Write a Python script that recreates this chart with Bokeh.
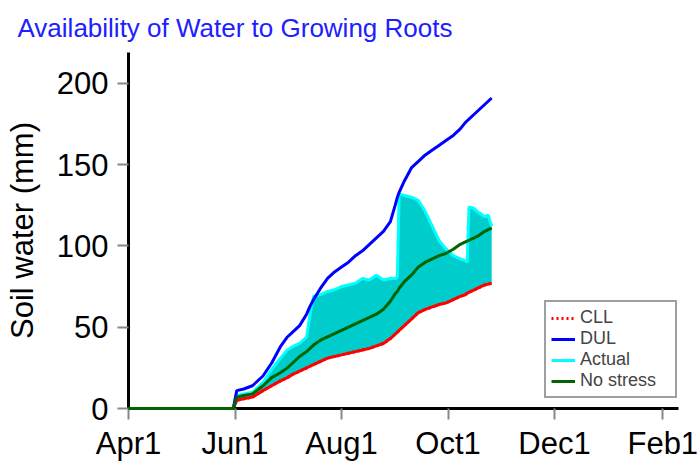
from bokeh.plotting import figure
from bokeh.models import Range1d, FixedTicker, Legend, LegendItem
from bokeh.embed import file_html
from bokeh.resources import INLINE

# days since Apr 1
days = [0, 60, 62, 66, 71, 77, 82, 87, 91, 94, 98, 102, 104, 106, 110, 114, 118, 122,
        126, 130, 134, 138, 142, 146, 150, 153, 154, 155, 158, 162, 166, 170, 174, 178,
        182, 186, 190, 193, 194, 195, 198, 200, 204, 206, 208]
dul = [0, 0, 11, 12, 14, 20, 28, 38, 44, 47, 51, 58, 63, 67, 74, 80, 84, 87, 90, 94, 97,
       101, 105, 109, 115, 126, 130, 133, 140, 148, 152, 156, 159, 162, 165, 168, 172,
       176, 177, 178, 181, 183, 187, 189, 191]
cll = [0, 0, 5, 6, 7, 11, 14, 17, 19, 21, 23, 25, 26, 27, 29, 31, 32, 33, 34, 35, 36, 37,
       38.5, 40, 43, 46, 47, 48, 51, 55, 59, 61, 62.5, 64, 65, 67, 69, 70, 71, 71.5, 73,
       74, 76, 76.5, 77]
actual = [0, 0, 8, 9, 10, 16, 24, 31, 36, 38, 40, 44, 58, 69, 70, 72, 73, 75, 76, 77, 80,
          79, 82, 79, 80, 80, 81, 132, 131, 130, 128, 121, 112, 103, 98, 94, 92, 91, 90,
          124, 123, 121, 118, 119, 112]
no_stress = [0, 0, 7, 8, 9, 14, 19, 22, 25, 28, 32, 35, 37, 39, 42, 44, 46, 48, 50, 52,
             54, 56, 58, 61, 66, 71, 72, 74, 78, 82, 87, 90, 92, 94, 95.5, 98, 101, 102.5,
             103, 103.5, 105, 106, 109, 110, 111]

tick_days = [0, 61, 122, 183, 244, 306]
tick_labels = ["Apr1", "Jun1", "Aug1", "Oct1", "Dec1", "Feb1"]
y_ticks = [0, 50, 100, 150, 200]

FONT = "Liberation Sans"

p = figure(width=698, height=463, output_backend="svg",
           toolbar_location=None,
           x_range=Range1d(0, 315), y_range=Range1d(0, 219),
           min_border_left=128, min_border_right=20, min_border_top=52,
           min_border_bottom=54)

p.title.text = "Availability of Water to Growing Roots"
p.title.text_font = FONT
p.title.text_font_size = "26px"
p.title.text_font_style = "normal"
p.title.text_color = "#2020ff"
p.title.offset = -111
p.title.standoff = 20

p.outline_line_color = None
p.xgrid.visible = False
p.ygrid.visible = False

for ax in (p.xaxis[0], p.yaxis[0]):
    ax.axis_line_color = "black"
    ax.axis_line_width = 3
    ax.major_tick_line_color = "#888888"
    ax.major_tick_line_width = 2
    ax.major_tick_out = 11
    ax.major_tick_in = 0
    ax.minor_tick_line_color = None
    ax.major_label_text_font = FONT
    ax.major_label_text_font_size = "31px"
    ax.major_label_text_color = "black"

p.xaxis.ticker = FixedTicker(ticks=tick_days)
p.xaxis.major_label_overrides = {d: l for d, l in zip(tick_days, tick_labels)}
p.xaxis.major_label_standoff = 6
p.yaxis.ticker = FixedTicker(ticks=y_ticks)
p.yaxis.major_label_standoff = 9

p.yaxis.axis_label = "Soil water (mm)"
p.yaxis.axis_label_text_font = FONT
p.yaxis.axis_label_text_font_size = "31px"
p.yaxis.axis_label_text_font_style = "normal"
p.yaxis.axis_label_text_color = "black"
p.yaxis.axis_label_standoff = 14

p.varea(x=days, y1=cll, y2=actual, fill_color="#00cccc")
r_act = p.line(days, actual, line_color="#00ffff", line_width=3)
r_dul = p.line(days, dul, line_color="#0000ff", line_width=3)
p.line(days, cll, line_color="#ff0000", line_width=3)
r_cll_leg = p.line(days, cll, line_color="#ff0000", line_width=3, line_dash="2 3")
r_ns = p.line(days, no_stress, line_color="#006400", line_width=3, level="overlay")

legend = Legend(items=[
    LegendItem(label="CLL", renderers=[r_cll_leg]),
    LegendItem(label="DUL", renderers=[r_dul]),
    LegendItem(label="Actual", renderers=[r_act]),
    LegendItem(label="No stress", renderers=[r_ns]),
], location=(416, 10))
legend.label_text_font = FONT
legend.label_text_font_size = "18px"
legend.label_standoff = 5
legend.label_width = 90
legend.glyph_width = 24
legend.glyph_height = 18
legend.label_height = 18
legend.spacing = 0
legend.padding = 5
legend.margin = 0
legend.border_line_color = "#404040"
legend.border_line_width = 2
legend.background_fill_color = "white"
legend.background_fill_alpha = 1
p.add_layout(legend, "center")

open("out.html", "w").write(file_html(p, INLINE))
